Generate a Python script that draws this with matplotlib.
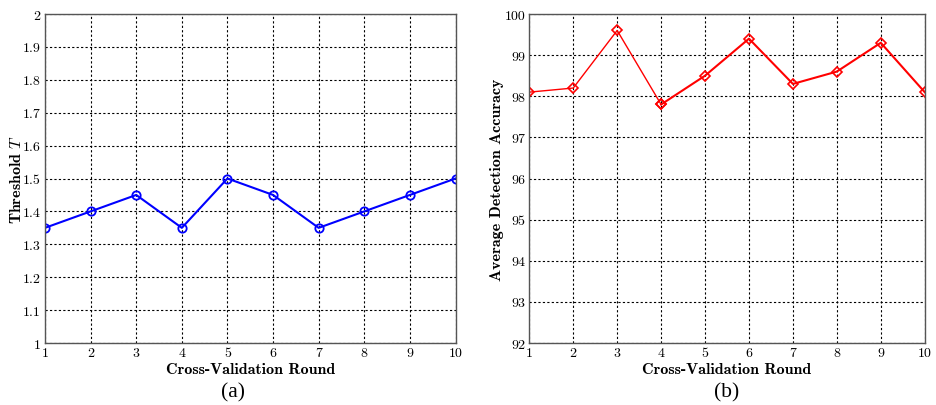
import matplotlib
matplotlib.use("Agg")
import matplotlib.pyplot as plt

rounds = [1, 2, 3, 4, 5, 6, 7, 8, 9, 10]
threshold = [1.35, 1.40, 1.45, 1.35, 1.50, 1.45, 1.35, 1.40, 1.45, 1.50]
accuracy = [98.1, 98.2, 99.6, 97.8, 98.5, 99.4, 98.3, 98.6, 99.3, 98.1]
yticks_a = [1, 1.1, 1.2, 1.3, 1.4, 1.5, 1.6, 1.7, 1.8, 1.9, 2]
yticklabels_a = ["1", "1.1", "1.2", "1.3", "1.4", "1.5", "1.6", "1.7", "1.8", "1.9", "2"]
yticks_b = [92, 93, 94, 95, 96, 97, 98, 99, 100]

plt.rcParams['mathtext.fontset'] = 'cm'
plt.rcParams['axes.unicode_minus'] = False

W, H = 936, 406
fig = plt.figure(figsize=(W / 100, H / 100), dpi=100)

def style(ax):
    ax.grid(True, linestyle=(0, (2, 2)), color='black', linewidth=0.8)
    ax.set_axisbelow(True)
    for s in ax.spines.values():
        s.set_color('#555555')
        s.set_linewidth(1.0)
    ax.tick_params(direction='in', length=0, labelsize=10, pad=3)
    ax.set_xticks(rounds)
    ax.set_xticklabels([str(r) for r in rounds], fontfamily='cmr10')

ax1 = fig.add_axes([45 / W, 1 - 344 / H, 410.5 / W, 329 / H])
ax1.plot(rounds, threshold, color='blue', linewidth=1.5, marker='o', markersize=6,
         markerfacecolor='none', markeredgecolor='blue', markeredgewidth=1.3)
ax1.set_xlim(1, 10)
ax1.set_ylim(1, 2)
ax1.set_yticks(yticks_a)
style(ax1)
ax1.set_yticklabels(yticklabels_a, fontfamily='cmr10')
ax1.set_xlabel('Cross-Validation Round', fontfamily='cmb10', fontsize=11.5, labelpad=2)
ax1.set_ylabel(r'Threshold $T$', fontfamily='cmb10', fontsize=11.5, labelpad=-1)

ax2 = fig.add_axes([529.3 / W, 1 - 344 / H, 395.4 / W, 329 / H])
ax2.plot(rounds[:4], accuracy[:4], color='red', linewidth=1.0, marker='D', markersize=5.5,
         markerfacecolor='none', markeredgecolor='red', markeredgewidth=1.2)
ax2.plot(rounds[3:], accuracy[3:], color='red', linewidth=1.5, marker='D', markersize=5.5,
         markerfacecolor='none', markeredgecolor='red', markeredgewidth=1.2)
ax2.set_xlim(1, 10)
ax2.set_ylim(92, 100)
ax2.set_yticks(yticks_b)
style(ax2)
ax2.set_yticklabels([str(v) for v in yticks_b], fontfamily='cmr10')
ax2.set_xlabel('Cross-Validation Round', fontfamily='cmb10', fontsize=11.5, labelpad=2)
ax2.set_ylabel('Average Detection Accuracy', fontfamily='cmb10', fontsize=11.5, labelpad=0)

fig.text(233 / W, 1 - 393 / H, '(a)', fontfamily='Liberation Serif', fontsize=15.5,
         ha='center', va='center')
fig.text(727 / W, 1 - 393 / H, '(b)', fontfamily='Liberation Serif', fontsize=15.5,
         ha='center', va='center')

fig.savefig('out.png', dpi=100)
